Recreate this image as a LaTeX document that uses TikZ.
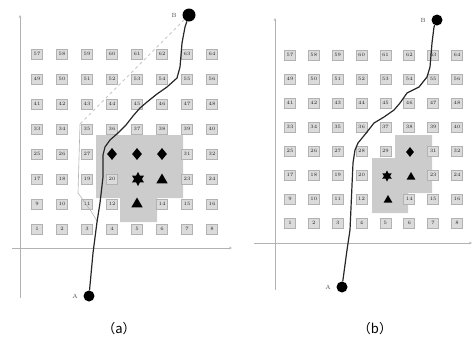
\documentclass[tikz,border=0pt]{standalone}
\usepackage{fontspec}
\newfontfamily\cjk{Noto Sans CJK SC}
\usetikzlibrary{arrows.meta, positioning, shapes.geometric}

\begin{document}
\begin{tikzpicture}[
  x=1pt, y=-1pt,
  cell/.style={rectangle, draw=gray!60, fill=gray!28, line width=0.7pt, minimum width=11pt, minimum height=10pt, inner sep=0pt, font=\fontsize{5}{5}\selectfont, text=gray!30!black},
  axis/.style={gray!60, line width=0.8pt, -{Stealth[length=3pt, width=2.5pt]}},
  dot/.style={circle, fill=black, minimum size=11pt, inner sep=0pt},
  route/.style={line width=1.2pt, black!85, line join=round},
  lbl/.style={font=\fontsize{6}{6}\selectfont, text=gray!60!black},
  dia/.style={diamond, fill=black, minimum width=10pt, minimum height=12pt, inner sep=0pt},
  tri/.style={regular polygon, regular polygon sides=3, fill=black, minimum size=13pt, inner sep=0pt},
  hex/.style={star, star points=6, star point ratio=1.8, fill=black, minimum size=14pt, inner sep=0pt},
  region/.style={fill=gray!40},
  subcap/.style={font=\cjk\fontsize{13}{13}\selectfont},
  >=Stealth
]
  \useasboundingbox (0,0) rectangle (474,341);

  % ---------- (a) ----------
  % Blocked region
  \fill[region] (96,135) -- (183,135) -- (183,198) -- (157,198) -- (157,222)
    -- (120,222) -- (120,198) -- (96,198) -- cycle;

  % Axes
  \coordinate (ao) at (20,298);
  \coordinate (ay) at (20,15);
  \coordinate (ax0) at (12,248);
  \coordinate (ax) at (232,248);
  \draw[axis] (ao) -- (ay);
  \draw[axis] (ax0) -- (ax);

  % Cells
  \foreach \r in {1,...,8} {
    \foreach \c in {1,...,8} {
      \pgfmathtruncatemacro{\n}{8*(\r-1)+\c}
      \pgfmathtruncatemacro{\hide}{(\n==13)||(\n==21)||(\n==22)||(\n==28)||(\n==29)||(\n==30)}
      \ifnum\hide=0
        \node[cell] (a\n) at (37+25*\c-25, 229-25*\r+25) {\n};
      \fi
    }
  }

  % Obstacles
  \node[dia] (ad1) at (112,154) {};
  \node[dia] (ad2) at (137,154) {};
  \node[dia] (ad3) at (162,154) {};
  \node[hex] (ah1) at (138,179) {};
  \node[tri] (at1) at (162,180) {};
  \node[tri] (at2) at (137,204) {};

  % Start and goal
  \node[dot] (Aa) at (89,296) {};
  \node[dot, minimum size=13pt] (Ba) at (189,15) {};
  \node[lbl, left=2pt of Aa] (Aalbl) {A};
  \node[lbl, left=2pt of Ba] (Balbl) {B};

  % Straight line and detour
  \coordinate (ac) at (80,124);
  \coordinate (ad) at (78,193);
  \coordinate (ae) at (91,211);
  \coordinate (af) at (97,221);
  \draw[gray!45, dashed, line width=0.8pt] (Ba) -- (ac);
  \draw[gray!60, line width=0.6pt] (ac) -- (ad) -- (ae) -- (af);

  % Path
  \draw[route] (Aa) -- (93,253) -- (97,222) -- (100,203) -- (103,177) -- (103,155)
    -- (105,147) -- (110,140) -- (118,133) -- (126,125) -- (133,116) -- (140,108)
    -- (147,102) -- (157,94) -- (167,87) -- (177,78) -- (180,67) -- (182,43)
    -- (185,27) -- (Ba);

  \node[subcap] (capa) at (119,329) {（a）};

  % ---------- (b) ----------
  % Blocked region
  \fill[region] (395,135) -- (432,135) -- (432,193) -- (408,193) -- (408,213)
    -- (372,213) -- (372,158) -- (395,158) -- cycle;

  % Axes
  \coordinate (bo) at (275,290);
  \coordinate (by) at (275,18);
  \coordinate (bx0) at (254,243);
  \coordinate (bx) at (472,243);
  \draw[axis] (bo) -- (by);
  \draw[axis] (bx0) -- (bx);

  % Cells
  \foreach \r in {1,...,8} {
    \foreach \c in {1,...,8} {
      \pgfmathtruncatemacro{\n}{8*(\r-1)+\c}
      \pgfmathtruncatemacro{\hide}{(\n==13)||(\n==21)||(\n==22)||(\n==30)}
      \ifnum\hide=0
        \node[cell] (b\n) at (290+23.86*\c-23.86, 223-24*\r+24) {\n};
      \fi
    }
  }

  % Obstacles
  \node[dia, minimum width=8pt, minimum height=10pt] (bd1) at (410,152) {};
  \node[hex, minimum size=11pt] (bh1) at (387,176) {};
  \node[tri, minimum size=10pt] (bt1) at (411,177) {};
  \node[tri, minimum size=10pt] (bt2) at (388,200) {};

  % Start and goal
  \node[dot] (Ab) at (342,287) {};
  \node[dot] (Bb) at (437,20) {};
  \node[lbl, left=2pt of Ab] (Ablbl) {A};
  \node[lbl, left=2pt of Bb] (Bblbl) {B};

  % Path
  \draw[route] (Ab) -- (347,250) -- (350,230) -- (353,163) -- (355,150)
    -- (358,143) -- (367,132) -- (374,123) -- (384,117) -- (394,110)
    -- (400,103) -- (407,93) -- (419,87) -- (427,77) -- (430,67)
    -- (432,43) -- (434,27) -- (Bb);

  \node[subcap] (capb) at (375,329) {（b）};
\end{tikzpicture}
\end{document}
